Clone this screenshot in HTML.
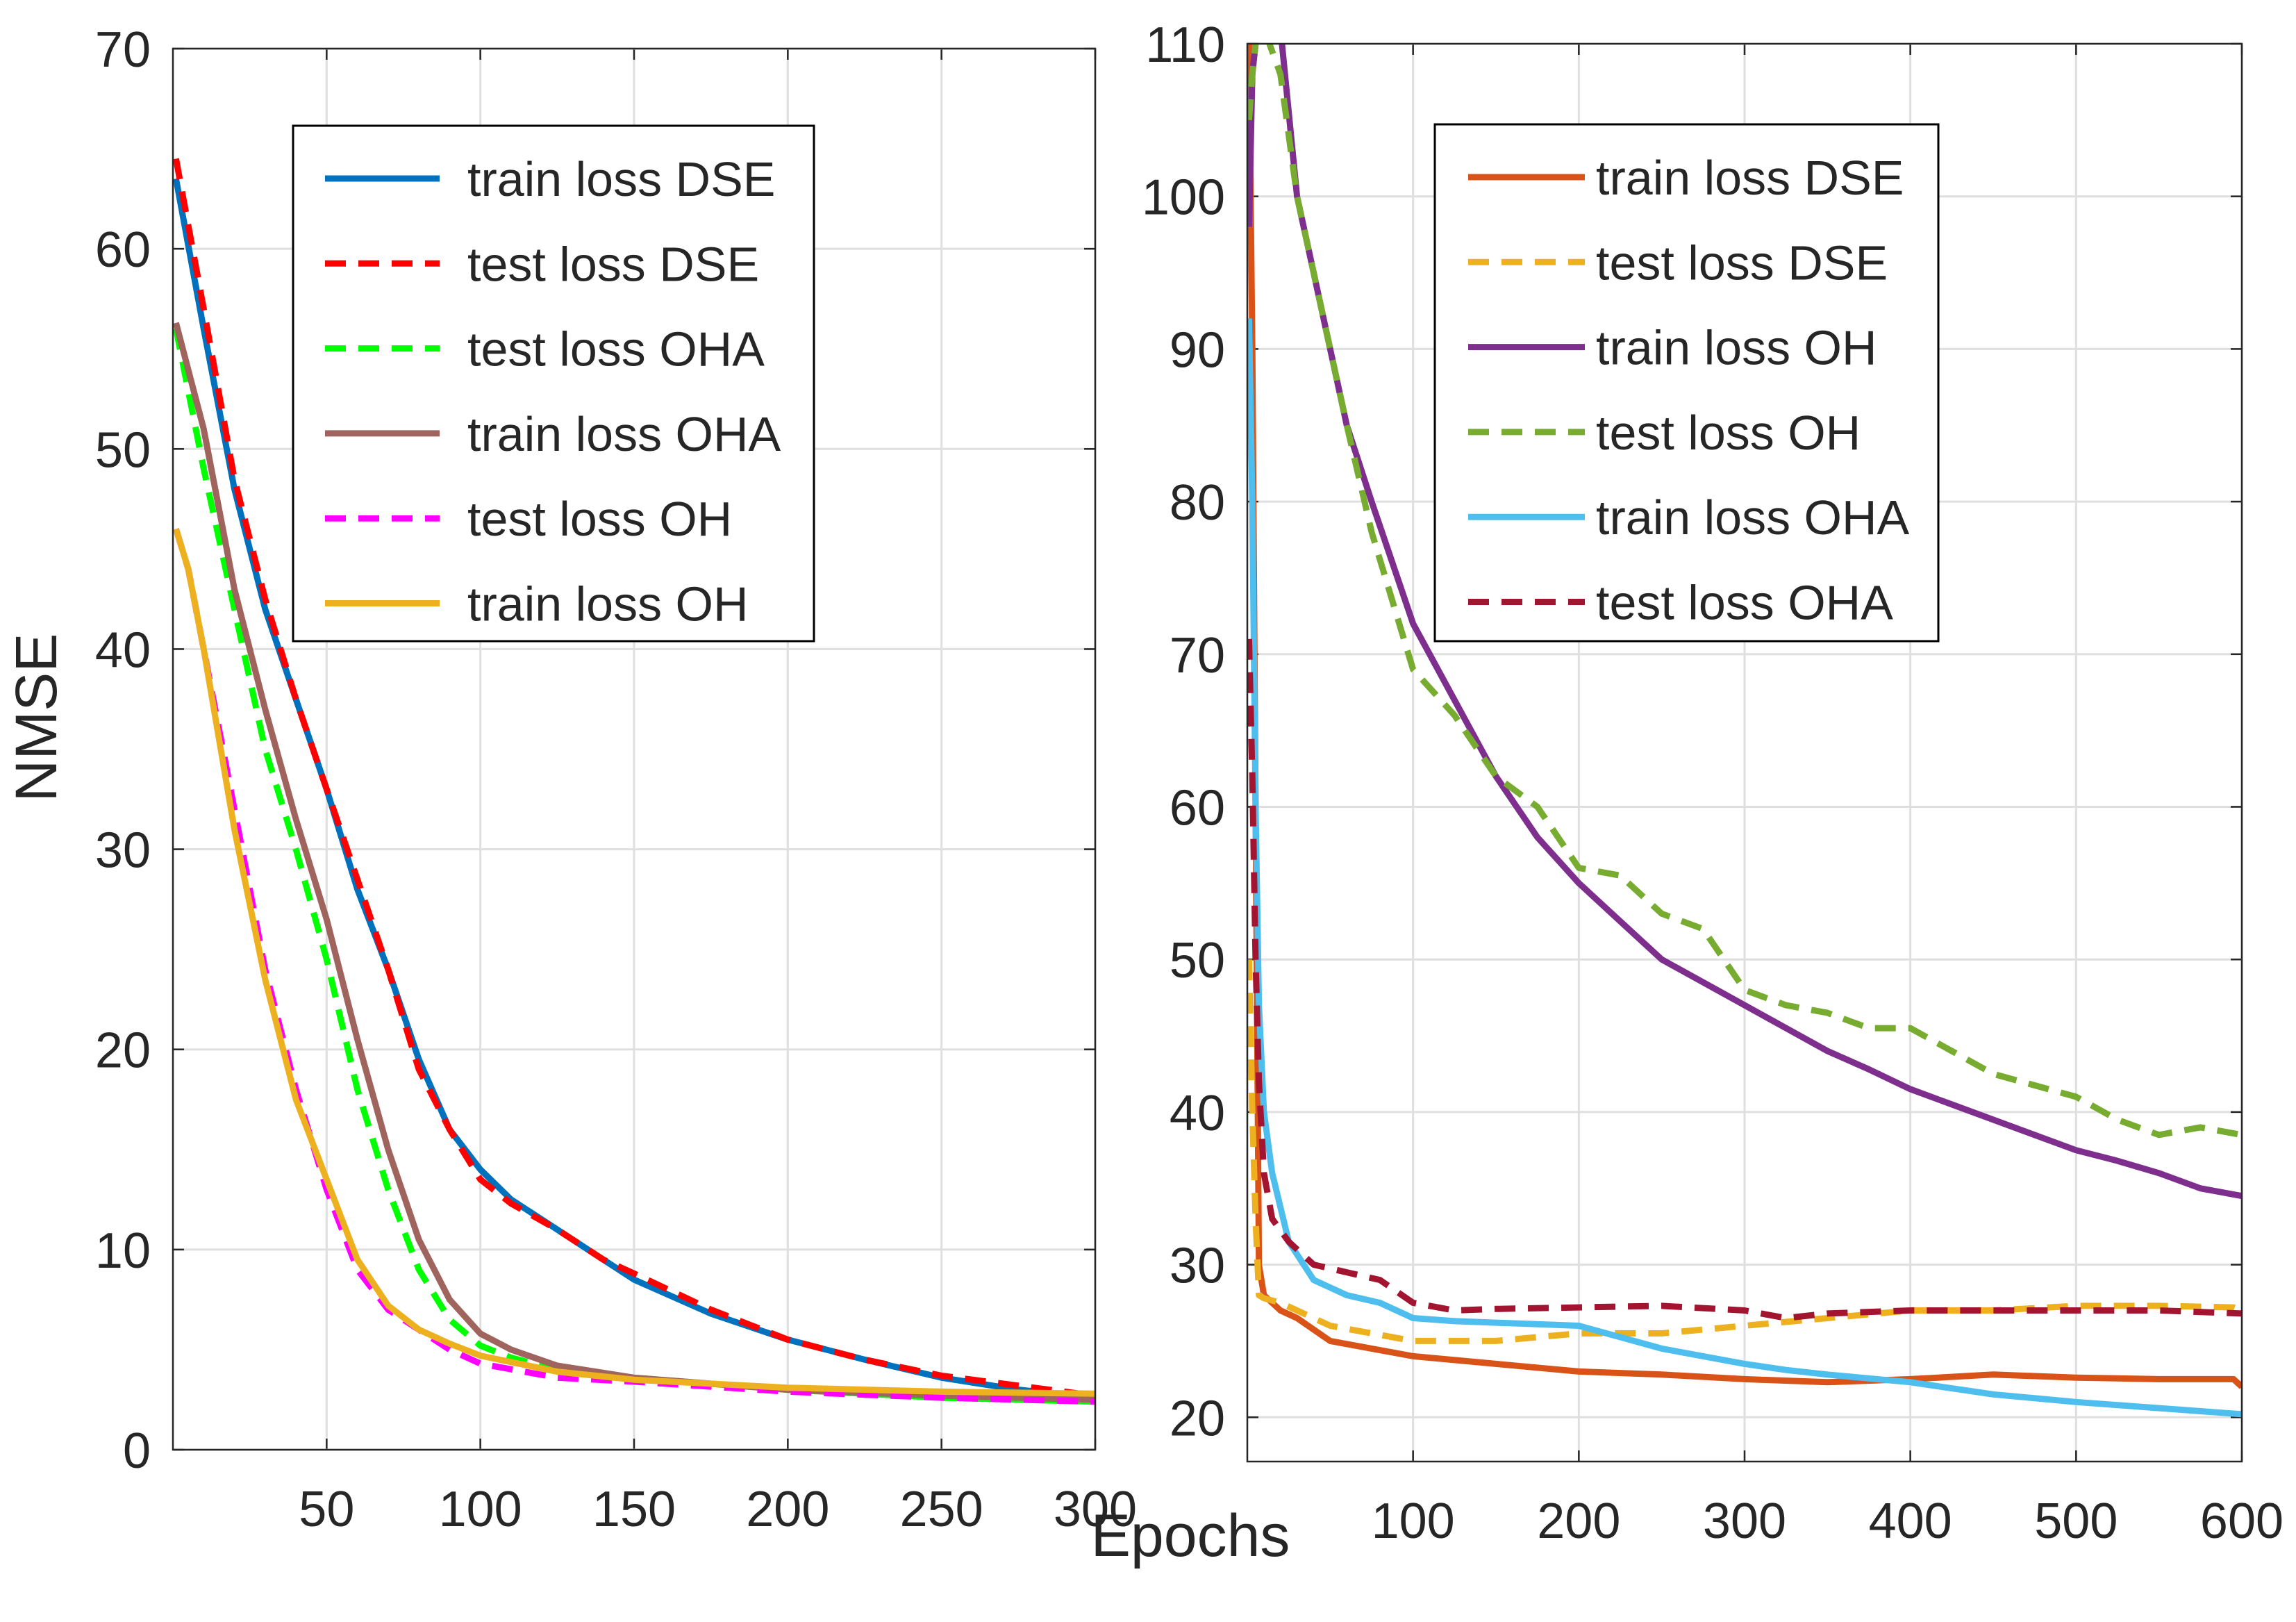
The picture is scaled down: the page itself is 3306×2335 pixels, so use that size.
<!DOCTYPE html>
<html><head><meta charset="utf-8"><style>
html,body{margin:0;padding:0;background:#fff}
svg{display:block}
text{font-family:"Liberation Sans",Arial,sans-serif;fill:#262626}
</style></head><body>
<svg id="chart" width="3306" height="2335" viewBox="0 0 3306 2335" xmlns="http://www.w3.org/2000/svg">
<rect x="0" y="0" width="3306" height="2335" fill="#fff"/>
<text x="59" y="1033" font-size="84" text-anchor="middle" dominant-baseline="middle" transform="rotate(-90 59 1033)">NMSE</text>
<text x="1714" y="2240" font-size="86" text-anchor="middle">Epochs</text>
</svg>
<script>
// Left panel data
const L_epochs_train_dse=[1,10,20,30,40,50,60,70,80,90,100,110,125,140,150,175,200,225,250,275,300];
const L_train_dse=[63.5,56,48,42,37.5,33,28,24,19.5,16,14,12.5,11,9.5,8.5,6.8,5.5,4.5,3.6,3,2.6];
const L_test_dse=[64.5,57,48.5,42.5,37.5,33,28.5,24,19,16,13.5,12.3,11,9.5,8.8,7,5.5,4.5,3.7,3.2,2.7];
const L_epochs_oha=[1,10,20,30,40,50,60,70,80,90,100,110,125,150,200,250,300];
const L_test_oha=[56,49,42,35,30,24.5,18,13,9,6.5,5.2,4.6,4,3.6,3,2.6,2.4];
const L_train_oha=[56.3,51,43,37,31.5,26.5,20.5,15,10.5,7.5,5.8,5,4.2,3.6,3,2.7,2.5];
const L_epochs_oh=[1,5,10,20,30,40,50,60,70,80,90,100,125,150,200,250,300];
const L_test_oh=[46,44,40,32,24,18,13,9,7,6,5,4.3,3.6,3.4,2.9,2.6,2.4];
const L_train_oh=[46,44,40,31,23.5,17.5,13.5,9.5,7.2,6,5.3,4.7,3.9,3.5,3.1,2.9,2.8];
const L_xticks=[50,100,150,200,250,300];
const L_yticks=[0,10,20,30,40,50,60,70];
// Right panel data
const R_epochs_dse=[1,3,5,7,10,20,30,50,75,100,150,200,250,300,350,400,450,500,550,595,600];
const R_train_dse=[110,90,60,30,28,27,26.5,25,24.5,24,23.5,23,22.8,22.5,22.3,22.5,22.8,22.6,22.5,22.5,22];
const R_test_dse=[50,40,33,28,27.8,27.5,27,26,25.5,25,25,25.5,25.5,26,26.5,27,27,27.3,27.3,27.2,27];
const R_epochs_oh=[1,3,5,10,20,30,40,50,60,75,100,125,150,175,200,225,250,275,300,325,350,375,400,425,450,500,525,550,575,600];
const R_train_oh=[98,108,110,112,111,100,95,90,85,80,72,67,62,58,55,52.5,50,48.5,47,45.5,44,42.8,41.5,40.5,39.5,37.5,36.8,36,35,34.5];
const R_test_oh=[105,108,110,111,108,100,95,90,85,78,69,66,62,60,56,55.5,53,52,48,47,46.5,45.5,45.5,44,42.5,41,39.5,38.5,39,38.5];
const R_epochs_oha=[1,3,5,7,10,15,25,40,60,80,100,125,150,200,250,300,325,350,400,450,500,550,600];
const R_train_oha=[92,80,60,47,40,36,31.5,29,28,27.5,26.5,26.3,26.2,26,24.5,23.5,23.1,22.8,22.3,21.5,21,20.6,20.2];
const R_test_oha=[71,62,50,42,36,33,31.5,30,29.5,29,27.5,27,27.1,27.2,27.3,27,26.5,26.8,27,27,27,27,26.8];
const R_xticks=[100,200,300,400,500,600];
const R_yticks=[20,30,40,50,60,70,80,90,100,110];

const NS='http://www.w3.org/2000/svg';
const svg=document.getElementById('chart');
function mk(tag,attrs,parent){const e=document.createElementNS(NS,tag);for(const k in attrs)e.setAttribute(k,attrs[k]);(parent||svg).appendChild(e);return e;}

function panel(cfg){
  const {x0,x1,y0,y1,xmin,xmax,ymin,ymax,xticks,yticks,name}=cfg;
  const sx=v=>x0+(v-xmin)/(xmax-xmin)*(x1-x0);
  const sy=v=>y1-(v-ymin)/(ymax-ymin)*(y1-y0);
  const g=mk('g',{});
  
  
  mk('rect',{x:x0,y:y0,width:x1-x0,height:y1-y0,fill:'#fff'},g);
  xticks.forEach(t=>{
    const l=mk('line',{x1:sx(t),x2:sx(t),y1:y0,y2:y1,stroke:'#dfdfdf','stroke-width':3},g);
    
    
    mk('line',{x1:sx(t),x2:sx(t),y1:y1,y2:y1-16,stroke:'#262626','stroke-width':2.5},g);
    mk('line',{x1:sx(t),x2:sx(t),y1:y0,y2:y0+16,stroke:'#262626','stroke-width':2.5},g);
    const tx=mk('text',{x:sx(t),y:y1+110,'font-size':72,'text-anchor':'middle'},g);
    tx.textContent=t;
    
    
  });
  yticks.forEach(t=>{
    const l=mk('line',{x1:x0,x2:x1,y1:sy(t),y2:sy(t),stroke:'#dfdfdf','stroke-width':3},g);
    
    
    mk('line',{x1:x0,x2:x0+16,y1:sy(t),y2:sy(t),stroke:'#262626','stroke-width':2.5},g);
    mk('line',{x1:x1,x2:x1-16,y1:sy(t),y2:sy(t),stroke:'#262626','stroke-width':2.5},g);
    const tx=mk('text',{x:x0-32,y:sy(t)+26,'font-size':72,'text-anchor':'end'},g);
    tx.textContent=t;
    
    
  });
  const cid='clip-'+name;
  const cp=mk('clipPath',{id:cid},g);
  mk('rect',{x:x0,y:y0,width:x1-x0,height:y1-y0},cp);
  const sg=mk('g',{'clip-path':'url(#'+cid+')'},g);
  cfg.series.forEach(s=>{
    const pts=s.x.map((v,i)=>sx(v).toFixed(1)+','+sy(s.y[i]).toFixed(1)).join(' ');
    const p=mk('polyline',{points:pts,fill:'none',stroke:s.color,'stroke-width':9,'stroke-linejoin':'round','stroke-dasharray':s.dash?'30 18':'none'},sg);
    
    
  });
  mk('rect',{x:x0,y:y0,width:x1-x0,height:y1-y0,fill:'none',stroke:'#262626','stroke-width':2.5},g);
  const lg=cfg.legend;
  const lgG=mk('g',{},g);
  
  
  mk('rect',{x:lg.x,y:lg.y,width:lg.w,height:lg.h,fill:'#fff',stroke:'#000','stroke-width':3},lgG);
  cfg.series.forEach((s,i)=>{
    const yy=lg.y+76+i*122.3;
    const e=mk('g',{},lgG);
    
    
    mk('line',{x1:lg.lx1,x2:lg.lx2,y1:yy,y2:yy,stroke:s.color,'stroke-width':9,'stroke-dasharray':s.dash?'30 18':'none'},e);
    const t=mk('text',{x:lg.tx,y:yy+25,'font-size':70},e);
    t.textContent=s.label;
  });
}

panel({name:'left',x0:249,x1:1577,y0:70,y1:2087,xmin:0,xmax:300,ymin:0,ymax:70,xticks:L_xticks,yticks:L_yticks,
 legend:{x:422,y:181,w:750,h:742,lx1:468,lx2:633,tx:673},
 series:[
  {id:'train-loss-dse',label:'train loss DSE',color:'#0072BD',dash:false,x:L_epochs_train_dse,y:L_train_dse},
  {id:'test-loss-dse',label:'test loss DSE',color:'#FF0000',dash:true,x:L_epochs_train_dse,y:L_test_dse},
  {id:'test-loss-oha',label:'test loss OHA',color:'#00FF00',dash:true,x:L_epochs_oha,y:L_test_oha},
  {id:'train-loss-oha',label:'train loss OHA',color:'#A0645F',dash:false,x:L_epochs_oha,y:L_train_oha},
  {id:'test-loss-oh',label:'test loss OH',color:'#FF00FF',dash:true,x:L_epochs_oh,y:L_test_oh},
  {id:'train-loss-oh',label:'train loss OH',color:'#EDB120',dash:false,x:L_epochs_oh,y:L_train_oh}
 ]});
panel({name:'right',x0:1796,x1:3228,y0:63,y1:2104,xmin:0,xmax:600,ymin:17.1,ymax:110,xticks:R_xticks,yticks:R_yticks,
 legend:{x:2066,y:179,w:725,h:744,lx1:2114,lx2:2282,tx:2298},
 series:[
  {id:'train-loss-dse',label:'train loss DSE',color:'#D95319',dash:false,x:R_epochs_dse,y:R_train_dse},
  {id:'test-loss-dse',label:'test loss DSE',color:'#EDB120',dash:true,x:R_epochs_dse,y:R_test_dse},
  {id:'train-loss-oh',label:'train loss OH',color:'#7E2F8E',dash:false,x:R_epochs_oh,y:R_train_oh},
  {id:'test-loss-oh',label:'test loss OH',color:'#77AC30',dash:true,x:R_epochs_oh,y:R_test_oh},
  {id:'train-loss-oha',label:'train loss OHA',color:'#4DBEEE',dash:false,x:R_epochs_oha,y:R_train_oha},
  {id:'test-loss-oha',label:'test loss OHA',color:'#A2142F',dash:true,x:R_epochs_oha,y:R_test_oha}
 ]});
</script>
</body></html>
